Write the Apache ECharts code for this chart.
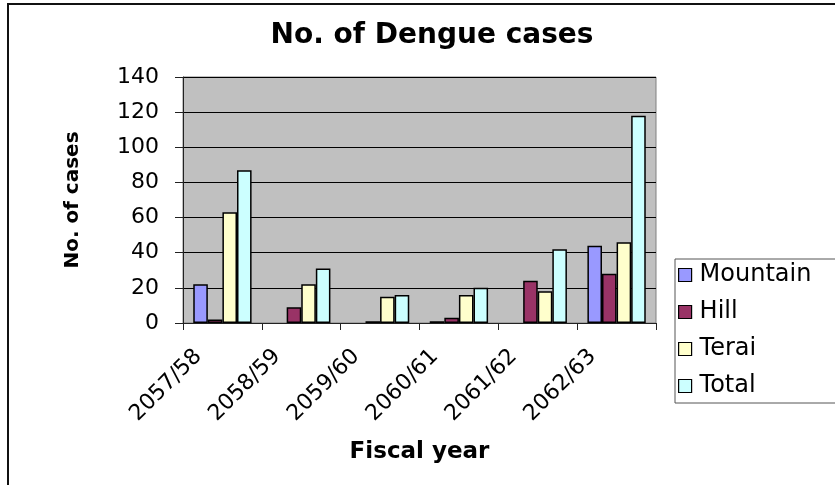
<!DOCTYPE html>
<html>
<head>
<meta charset="utf-8">
<title>No. of Dengue cases</title>
<script src="https://cdn.jsdelivr.net/npm/echarts@6/dist/echarts.min.js"></script>
<style>
  html, body { margin: 0; padding: 0; background: #fff; }
  #wrap { position: relative; width: 835px; height: 485px; overflow: hidden; }
  #frame {
    position: absolute; left: 7px; top: 3px; width: 900px; height: 520px;
    border-left: 2px solid #111; border-top: 2px solid #111;
  }
  #chart { position: absolute; left: 0; top: 0; width: 835px; height: 485px; }
</style>
</head>
<body>
<div id="wrap">
  <div id="frame"></div>
  <div id="chart"></div>
</div>
<script>
// data
const years = ['2057/58', '2058/59', '2059/60', '2060/61', '2061/62', '2062/63']
const mountain = [22, 0, 0, 1, 0, 44]
const hill = [2, 9, 1, 3, 24, 28]
const terai = [63, 22, 15, 16, 18, 46]
const total = [87, 31, 16, 20, 42, 118]

const seriesNames = ['Mountain', 'Hill', 'Terai', 'Total']
const seriesColors = ['#9999ff', '#993366', '#ffffcc', '#ccffff']

const font = 'DejaVu Sans'

// zero values: excel draws no bar at all, so leave the slot empty
const makeBar = (name, data, color) => ({
  name,
  type: 'bar',
  data: data.map(v => (v === 0 ? null : v)),
  barGap: '0%',
  barCategoryGap: '26%',
  itemStyle: { color, borderColor: '#000', borderWidth: 1.5 },
  emphasis: { disabled: true }
})

const chart = echarts.init(document.getElementById('chart'))

const option = {
  animation: false,
  textStyle: { fontFamily: font },
  title: {
    text: 'No. of Dengue cases',
    left: 427,
    textAlign: 'center',
    top: 17,
    textStyle: { fontFamily: font, fontSize: 28, fontWeight: 'bold', color: '#000' }
  },
  legend: {
    orient: 'vertical',
    left: 675,
    top: 259,
    padding: [4, 90, 5, 3],
    itemGap: 13,
    itemWidth: 13,
    itemHeight: 13,
    borderColor: '#555',
    borderWidth: 1,
    backgroundColor: '#fff',
    icon: 'rect',
    data: seriesNames.map((n, i) => ({
      name: n,
      itemStyle: { color: seriesColors[i], borderColor: '#000', borderWidth: 1.2 }
    })),
    textStyle: { fontFamily: font, fontSize: 24, lineHeight: 23, color: '#000', padding: [0, 0, 0, 3] }
  },
  grid: {
    left: 183,
    right: 179,
    top: 77,
    bottom: 162,
    show: true,
    backgroundColor: '#c0c0c0',
    borderColor: '#808080',
    borderWidth: 1
  },
  xAxis: {
    type: 'category',
    data: years,
    name: 'Fiscal year',
    nameLocation: 'middle',
    nameGap: 118,
    nameTextStyle: { fontFamily: font, fontSize: 23, fontWeight: 'bold', color: '#000' },
    axisLine: { lineStyle: { color: '#222', width: 1 } },
    axisTick: { show: true, length: 7, lineStyle: { color: '#222' } },
    axisLabel: {
      rotate: 45,
      interval: 0,
      margin: 6,
      padding: [0, 34, 0, 0],
      fontFamily: font,
      fontSize: 22,
      color: '#000'
    }
  },
  yAxis: {
    type: 'value',
    min: 0,
    max: 140,
    interval: 20,
    name: 'No. of cases',
    nameLocation: 'middle',
    nameGap: 100,
    nameTextStyle: { fontFamily: font, fontSize: 20, fontWeight: 'bold', color: '#000' },
    axisLine: { show: true, lineStyle: { color: '#222', width: 1 } },
    axisTick: { show: true, length: 8, lineStyle: { color: '#222' } },
    axisLabel: { margin: 24, fontFamily: font, fontSize: 22, color: '#000' },
    splitLine: { show: true, lineStyle: { color: '#000', width: 1 } }
  },
  series: [
    makeBar(seriesNames[0], mountain, seriesColors[0]),
    makeBar(seriesNames[1], hill, seriesColors[1]),
    makeBar(seriesNames[2], terai, seriesColors[2]),
    makeBar(seriesNames[3], total, seriesColors[3])
  ]
}

chart.setOption(option)
</script>
</body>
</html>
